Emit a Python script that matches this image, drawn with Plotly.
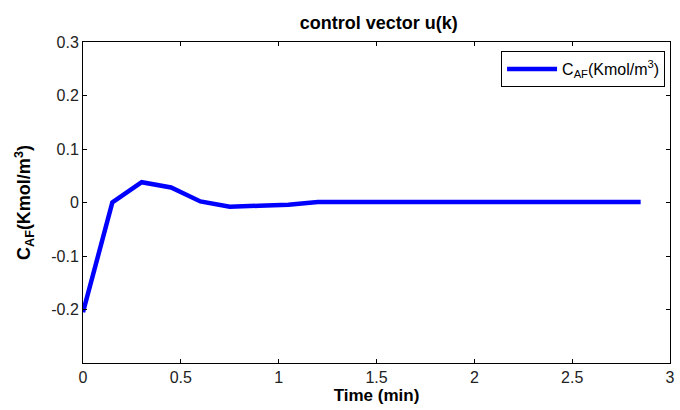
import plotly.graph_objects as go

# Sample times (min) and control signal values
time_min = [0.0, 0.15, 0.3, 0.45, 0.6, 0.75, 0.9, 1.05, 1.2, 1.35, 1.5, 1.65,
            1.8, 1.95, 2.1, 2.25, 2.4, 2.55, 2.7, 2.85]
c_af = [-0.205, 0.0, 0.038, 0.028, 0.002, -0.008, -0.006, -0.004, 0.001, 0.001,
        0.001, 0.001, -0.001, -0.001, -0.001, -0.001, 0.001, 0.001, 0.001, 0.001]

x_ticks = [0, 0.5, 1, 1.5, 2, 2.5, 3]
x_labels = ["0", "0.5", "1", "1.5", "2", "2.5", "3"]
y_ticks = [-0.2, -0.1, 0, 0.1, 0.2, 0.3]
y_labels = ["-0.2", "-0.1", "0", "0.1", "0.2", "0.3"]

FONT = "Arial, Liberation Sans, Helvetica, sans-serif"

fig = go.Figure()
fig.add_trace(go.Scatter(
    x=time_min, y=c_af, mode="lines",
    line=dict(color="#0000ff", width=4.5),
    name="C<sub>AF</sub>(Kmol/m<sup>3</sup>)",
))

axis_common = dict(
    showline=True, linecolor="black", linewidth=1, mirror="ticks",
    ticks="inside", ticklen=4, tickcolor="black", showgrid=False, zeroline=False,
    tickfont=dict(family=FONT, size=16, color="#222"),
)

fig.update_layout(
    width=680, height=410,
    margin=dict(l=83, r=5, t=42, b=47),
    paper_bgcolor="white", plot_bgcolor="white",
    title=dict(text="<b>control vector u(k)</b>", x=0.557, xanchor="center",
               y=0.944, yanchor="middle",
               font=dict(family=FONT, size=18, color="black")),
    xaxis=dict(range=[0, 3], tickvals=x_ticks, ticktext=x_labels,
               title=dict(text="<b>Time (min)</b>", standoff=2,
                          font=dict(family=FONT, size=17, color="black")),
               **axis_common),
    yaxis=dict(range=[-0.3, 0.3], tickvals=y_ticks, ticktext=y_labels,
               title=dict(text="<b>C<sub>AF</sub>(Kmol/m<sup>3</sup>)</b>", standoff=15,
                          font=dict(family=FONT, size=18, color="black")),
               **axis_common),
    showlegend=True,
    legend=dict(x=0.9916, y=0.972, xanchor="right", yanchor="top",
                bordercolor="black", borderwidth=1, bgcolor="white",
                font=dict(family=FONT, size=16, color="black"),
                itemwidth=50, tracegroupgap=0),
)

fig.write_html("out.html")
